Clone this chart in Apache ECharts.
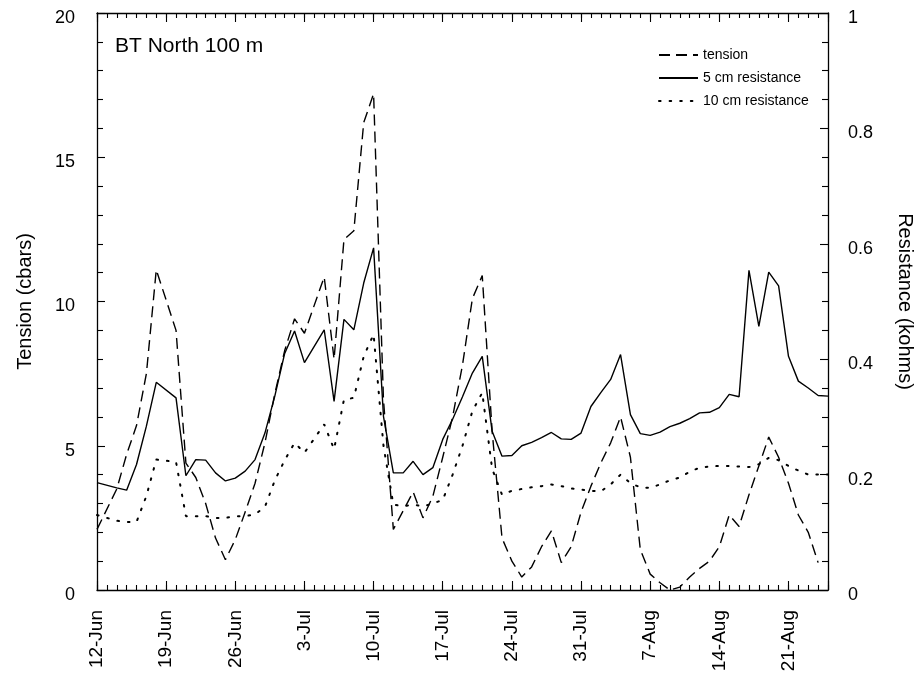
<!DOCTYPE html>
<html>
<head>
<meta charset="utf-8">
<script src="https://cdn.jsdelivr.net/npm/echarts@6/dist/echarts.min.js"></script>
<style>
  html, body { margin: 0; padding: 0; background: #fff; }
  #chart { width: 923px; height: 688px; }
</style>
</head>
<body>
<div id="chart"></div>
<script>
// Day index 0 = 12-Jun ... 74 = 25-Aug
const days = Array.from({length: 75}, (_, i) => i);
const tickLabels = ['12-Jun','19-Jun','26-Jun','3-Jul','10-Jul','17-Jul','24-Jul','31-Jul','7-Aug','14-Aug','21-Aug'];

// Tension (cbars), left axis
const tension = [
  2.1, null, 3.5, 4.7, 5.7, 7.5, 11.1, null, 9.0, 4.4,
  3.9, 3.0, 1.8, 1.05, 1.75, 2.7, 3.7, 5.1, 6.8, 8.3,
  9.4, 8.9, null, 10.85, 8.0, 12.15, 12.45, 16.2, 17.2, 6.6,
  2.1, 2.75, 3.4, 2.5, 3.25, 4.6, 6.0, 7.8, 10.1, 10.9,
  5.5, 1.8, 1.0, 0.45, 0.8, 1.5, 2.05, 0.95, 1.5, 2.7,
  3.6, 4.4, 5.1, 6.0, 4.6, 1.4, 0.55, 0.25, 0.0, 0.1,
  0.45, 0.75, 1.0, 1.5, 2.6, 2.2, 3.3, 4.3, 5.3, 4.6,
  3.7, 2.6, 2.0, 0.95, null
];

// 5 cm resistance (kohms), right axis
const res5 = [
  0.186, null, 0.177, 0.173, 0.2175, 0.284, 0.36, null, 0.333, 0.198,
  0.226, 0.225, 0.203, 0.189, 0.194, 0.206, 0.226, 0.272, 0.336, 0.41,
  0.449, 0.394, null, 0.451, 0.327, 0.469, 0.451, 0.532, 0.593, 0.301,
  0.203, 0.203, 0.223, 0.2, 0.212, 0.261, 0.296, 0.335, 0.376, 0.405,
  0.275, 0.232, 0.233, 0.25, 0.256, 0.264, 0.273, 0.262, 0.261, 0.272,
  0.318, 0.342, 0.365, 0.408, 0.304, 0.271, 0.268, 0.2735, 0.283, 0.289,
  0.297, 0.307, 0.308, 0.316, 0.339, 0.335, 0.554, 0.457, 0.551, 0.527,
  0.405, 0.362, 0.350, 0.337, 0.336
];

// 10 cm resistance (kohms), right axis
const res10 = [
  0.13, null, 0.12, 0.118, 0.118, 0.163, 0.226, null, 0.222, 0.128,
  0.128, 0.128, 0.125, 0.125, 0.128, 0.128, 0.131, 0.144, 0.19, 0.225,
  0.255, 0.238, null, 0.287, 0.244, 0.33, 0.333, 0.405, 0.443, 0.25,
  0.148, 0.145, 0.148, 0.145, 0.15, 0.156, 0.2, 0.25, 0.31, 0.342,
  0.21, 0.165, 0.172, 0.175, 0.178, 0.18, 0.183, 0.18, 0.176, 0.174,
  0.172, 0.171, 0.183, 0.2, 0.185, 0.178, 0.177, 0.183, 0.19, 0.195,
  0.205, 0.212, 0.214, 0.215, 0.215, 0.214, 0.213, 0.218, 0.229, 0.225,
  0.215, 0.207, 0.2, 0.2, 0.2
];

const FONT = '"Liberation Sans", Arial, Helvetica, sans-serif';
const BLACK = '#000';

function pairs(vals) { return days.map((d, i) => [d, vals[i]]); }

function xAx(pos, interval, len, withLabels, withLine) {
  return {
    type: 'value', position: pos, min: 0, max: 74, interval: interval,
    axisLine: { show: withLine, onZero: false, lineStyle: { color: BLACK, width: 1.3 } },
    axisTick: { show: true, inside: true, length: len, lineStyle: { color: BLACK, width: 1.1 } },
    splitLine: { show: false },
    axisLabel: withLabels ? {
      show: true, rotate: 90, margin: 20, color: BLACK, fontSize: 19, fontFamily: FONT,
      padding: [10, 0, 0, 0],
      formatter: v => (v % 7 === 0 ? tickLabels[v / 7] : '')
    } : { show: false }
  };
}

const chart = echarts.init(document.getElementById('chart'), null, { renderer: 'canvas' });
chart.setOption({
  backgroundColor: '#fff',
  animation: false,
  title: {
    text: 'BT North 100 m', left: 110, top: 31,
    textStyle: { fontFamily: FONT, fontSize: 21, fontWeight: 'normal', color: BLACK }
  },
  legend: {
    orient: 'vertical', left: 653, top: 43,
    itemWidth: 39, itemHeight: 12, itemGap: 9,
    itemStyle: { opacity: 0 },
    textStyle: { fontFamily: FONT, fontSize: 14, color: BLACK },
    data: ['tension', '5 cm resistance', '10 cm resistance']
  },
  grid: { left: 97, right: 95, top: 13, bottom: 98, containLabel: false },
  xAxis: [
    xAx('bottom', 1, 5, false, true),
    xAx('bottom', 7, 9, true, false),
    xAx('top', 1, 5, false, true),
    xAx('top', 7, 9, false, false)
  ],
  yAxis: [
    {
      type: 'value', position: 'left', min: 0, max: 20, interval: 5,
      name: 'Tension (cbars)', nameLocation: 'middle', nameGap: 62, nameRotate: 90,
      nameTextStyle: { fontFamily: FONT, fontSize: 20, color: BLACK },
      axisLine: { show: true, onZero: false, lineStyle: { color: BLACK, width: 1.3 } },
      axisTick: { show: true, inside: true, length: 8, lineStyle: { color: BLACK, width: 1.1 } },
      minorTick: { show: true, splitNumber: 5, length: 6, lineStyle: { color: BLACK, width: 1.1 } },
      splitLine: { show: false },
      axisLabel: { color: BLACK, fontSize: 18, fontFamily: FONT, margin: 22, verticalAlign: 'top', lineHeight: 10 }
    },
    {
      type: 'value', position: 'right', min: 0, max: 1, interval: 0.2,
      name: 'Resistance (kohms)', nameLocation: 'middle', nameGap: 67, nameRotate: -90,
      nameTextStyle: { fontFamily: FONT, fontSize: 20, color: BLACK },
      axisLine: { show: true, onZero: false, lineStyle: { color: BLACK, width: 1.3 } },
      axisTick: { show: true, inside: true, length: 8, lineStyle: { color: BLACK, width: 1.1 } },
      minorTick: { show: true, splitNumber: 4, length: 6, lineStyle: { color: BLACK, width: 1.1 } },
      splitLine: { show: false },
      axisLabel: { color: BLACK, fontSize: 18, fontFamily: FONT, margin: 20, verticalAlign: 'top', lineHeight: 10 }
    }
  ],
  series: [
    {
      name: 'tension', type: 'line', xAxisIndex: 0, yAxisIndex: 0,
      data: pairs(tension), connectNulls: true, symbol: 'none',
      lineStyle: { color: BLACK, width: 1.4, type: [11, 6] },
      itemStyle: { color: BLACK }
    },
    {
      name: '5 cm resistance', type: 'line', xAxisIndex: 0, yAxisIndex: 1,
      data: pairs(res5), connectNulls: true, symbol: 'none',
      lineStyle: { color: BLACK, width: 1.4, type: 'solid' },
      itemStyle: { color: BLACK }
    },
    {
      name: '10 cm resistance', type: 'line', xAxisIndex: 0, yAxisIndex: 1,
      data: pairs(res10), connectNulls: true, symbol: 'none',
      lineStyle: { color: BLACK, width: 2, type: [1.6, 9], cap: 'round' },
      itemStyle: { color: BLACK }
    }
  ]
});
</script>
</body>
</html>
